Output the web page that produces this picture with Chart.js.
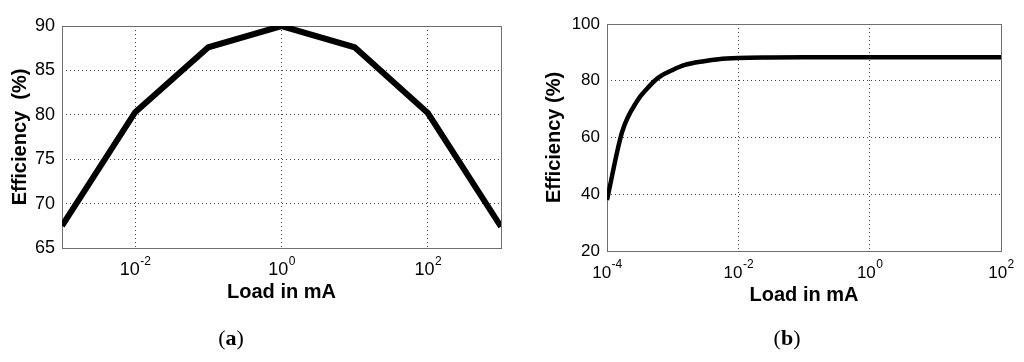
<!DOCTYPE html>
<html>
<head>
<meta charset="utf-8">
<script src="https://cdn.jsdelivr.net/npm/chart.js@4/dist/chart.umd.min.js"></script>
<style>
  html, body { margin: 0; padding: 0; background: #fff; }
  body { width: 1024px; height: 362px; position: relative; overflow: hidden; }
  canvas { position: absolute; top: 0; }
  #chartA { left: 0; }
  #chartB { left: 512px; }
  .cap {
    position: absolute; top: 325px; width: 60px; text-align: center;
    font-family: "Liberation Serif", "DejaVu Serif", serif; font-size: 22px; color: #000;
  }
</style>
</head>
<body>
<canvas id="chartA" width="512" height="362"></canvas>
<canvas id="chartB" width="512" height="362"></canvas>
<div class="cap" style="left:201px">(<b>a</b>)</div>
<div class="cap" style="left:757px">(<b>b</b>)</div>
<script>
// (a) efficiency vs load
const loadA = [1e-3, 1e-2, 1e-1, 1, 1e1, 1e2, 1e3];
const effA = [67.5, 80.3, 87.6, 90, 87.6, 80.2, 67.4];
const xTicksA = [1e-2, 1, 1e2];
const yTicksA = [65, 70, 75, 80, 85, 90];

// (b) efficiency vs load
const loadB = [1e-4, 1.7e-4, 2.9e-4, 4e-4, 6e-4, 1e-3, 1.5e-3, 3e-3, 5e-3, 1e-2, 3e-2, 1e-1, 1, 10, 100];
const effB = [38, 62, 73, 77, 81, 83.8, 85.5, 86.9, 87.6, 88.0, 88.2, 88.3, 88.3, 88.3, 88.3];
const xTicksB = [1e-4, 1e-2, 1, 1e2];
const yTicksB = [20, 40, 60, 80, 100];

// box around the plot area, like matlab axes
const framePlugin = {
  id: 'frame',
  beforeDatasetsDraw(chart) {
    const { ctx, chartArea: a } = chart;
    ctx.save();
    ctx.strokeStyle = '#6e6e6e';
    ctx.lineWidth = 1;
    ctx.strokeRect(Math.round(a.left) + 0.5, Math.round(a.top) + 0.5,
      Math.round(a.right - a.left), Math.round(a.bottom - a.top));
    ctx.restore();
  }
};

// x tick labels as 10 with a raised exponent
const powTicksPlugin = {
  id: 'powTicks',
  afterDraw(chart, args, o) {
    const { ctx } = chart;
    const s = chart.scales.x;
    ctx.save();
    ctx.fillStyle = '#000';
    ctx.textBaseline = 'alphabetic';
    ctx.textAlign = 'left';
    s.ticks.forEach(t => {
      const x = s.getPixelForValue(t.value);
      const exp = String(Math.round(Math.log10(t.value)));
      ctx.font = o.size + 'px "Liberation Sans"';
      const wBase = ctx.measureText('10').width;
      ctx.font = o.supSize + 'px "Liberation Sans"';
      const wExp = ctx.measureText(exp).width;
      const x0 = x - (wBase + wExp) / 2;
      const y = s.top + o.baseline;
      ctx.font = o.size + 'px "Liberation Sans"';
      ctx.fillText('10', x0, y);
      ctx.font = o.supSize + 'px "Liberation Sans"';
      ctx.fillText(exp, x0 + wBase + 0.5, y - 10);
    });
    ctx.restore();
  }
};

function makeChart(id, opts) {
  const points = opts.xs.map((x, i) => ({ x: x, y: opts.ys[i] }));
  return new Chart(document.getElementById(id), {
    type: 'line',
    data: {
      datasets: [{
        data: points,
        borderColor: '#000',
        borderWidth: opts.lineWidth,
        pointRadius: 0,
        cubicInterpolationMode: opts.smooth ? 'monotone' : 'default',
        tension: 0,
        clip: 0
      }]
    },
    options: {
      responsive: false,
      animation: false,
      devicePixelRatio: 1,
      layout: { padding: opts.padding },
      plugins: {
        legend: { display: false },
        tooltip: { enabled: false },
        powTicks: { size: opts.tickSize, supSize: 12, baseline: opts.tickBaseline }
      },
      scales: {
        x: {
          type: 'logarithmic',
          min: opts.xMin,
          max: opts.xMax,
          afterBuildTicks: (s) => { s.ticks = opts.xTicks.map(v => ({ value: v })); },
          afterFit: (s) => { s.height = opts.xHeight; },
          ticks: { display: false, autoSkip: false },
          grid: { color: '#444', lineWidth: 1, drawTicks: false },
          border: { display: false, dash: [1, 3] },
          title: {
            display: true, text: 'Load in mA', color: '#000',
            font: { family: 'Liberation Sans', size: 20, weight: 'bold' },
            padding: { top: 0, bottom: 4 }
          }
        },
        y: {
          min: opts.yTicks[0],
          max: opts.yTicks[opts.yTicks.length - 1],
          afterBuildTicks: (s) => { s.ticks = opts.yTicks.map(v => ({ value: v })); },
          afterFit: (s) => { s.width = opts.yWidth; },
          ticks: {
            padding: 7, color: '#000',
            font: { family: 'Liberation Sans', size: opts.tickSize }
          },
          grid: { color: '#444', lineWidth: 1, drawTicks: false },
          border: { display: false, dash: [1, 3] },
          title: {
            display: true, text: opts.yTitle, color: '#000',
            font: { family: 'Liberation Sans', size: 20, weight: 'bold' },
            padding: { top: opts.yTitlePad, bottom: 0 }
          }
        }
      }
    },
    plugins: [framePlugin, powTicksPlugin]
  });
}

makeChart('chartA', {
  xs: loadA, ys: effA, xTicks: xTicksA, yTicks: yTicksA,
  xMin: 1e-3, xMax: 1e3, lineWidth: 6, smooth: false, tickSize: 18, tickBaseline: 27,
  yTitle: 'Efficiency  (%)', yTitlePad: 8, yWidth: 62, xHeight: 60,
  padding: { left: 0, top: 26, right: 11, bottom: 54 }
});

makeChart('chartB', {
  xs: loadB, ys: effB, xTicks: xTicksB, yTicks: yTicksB,
  xMin: 1e-4, xMax: 1e2, lineWidth: 4.5, smooth: true, tickSize: 17, tickBaseline: 27,
  yTitle: 'Efficiency (%)', yTitlePad: 30, yWidth: 95, xHeight: 60,
  padding: { left: 0, top: 24, right: 23, bottom: 51 }
});
</script>
</body>
</html>
